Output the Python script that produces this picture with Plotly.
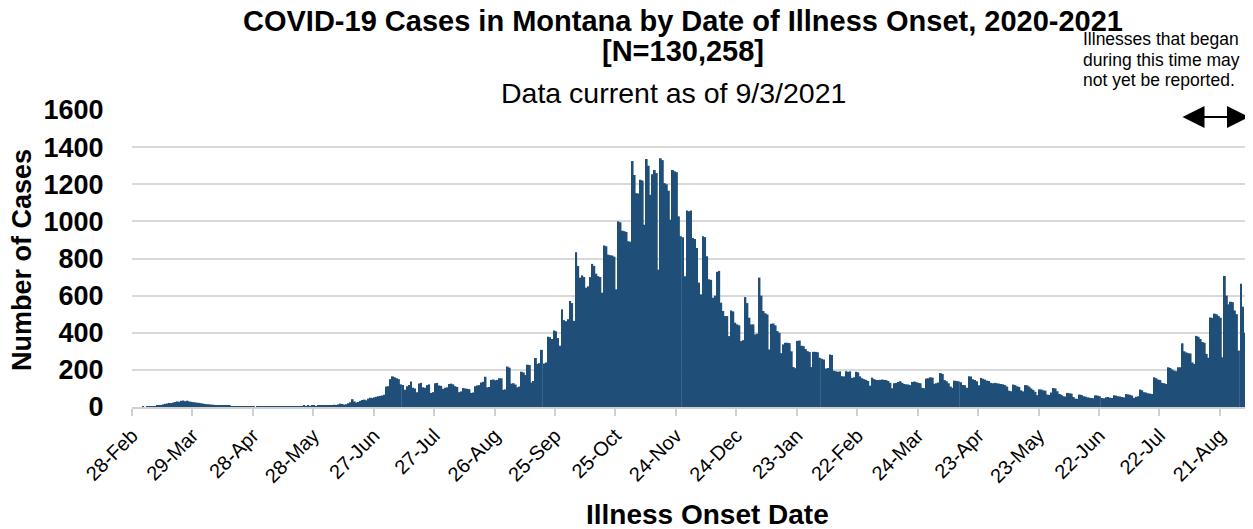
import pandas as pd
import plotly.graph_objects as go

# ---- Data: daily cases by illness onset date ----
start_date = "2020-02-28"
cases_2020_02 = [0, 0]
cases_2020_03 = [0, 0, 0, 1, 0, 1, 1, 2, 3, 4, 6, 8, 11, 14, 17, 19, 22, 21, 24, 27,
                 30, 28, 33, 35, 31, 34, 30, 28, 26, 25, 23]
cases_2020_04 = [22, 20, 18, 16, 15, 14, 13, 12, 11, 10, 9, 9, 8, 7, 6, 6, 5, 4, 4, 3,
                 3, 2, 2, 2, 1, 1, 1, 1, 0, 1]
cases_2020_05 = [1, 2, 1, 2, 3, 2, 2, 3, 2, 3, 3, 2, 3, 4, 3, 3, 4, 3, 4, 5,
                 4, 5, 6, 5, 6, 5, 7, 6, 5, 7, 6]
cases_2020_06 = [7, 8, 6, 9, 10, 8, 12, 11, 14, 18, 16, 13, 15, 20, 25, 42, 30, 24, 27, 33,
                 38, 40, 36, 45, 50, 48, 52, 55, 58, 60]
cases_2020_07 = [62, 66, 110, 112, 150, 165, 160, 155, 150, 122, 118, 93, 112, 118, 138, 104,
                 100, 80, 126, 130, 106, 104, 118, 122, 76, 80, 128, 130, 116, 114, 98]
cases_2020_08 = [104, 106, 124, 126, 122, 112, 108, 80, 84, 102, 100, 98, 96, 76, 78, 112,
                 116, 118, 132, 136, 163, 106, 108, 146, 148, 144, 146, 155, 154, 93, 95]
cases_2020_09 = [218, 212, 126, 128, 121, 106, 110, 190, 186, 172, 228, 226, 132, 140, 264,
                 232, 236, 308, 234, 240, 379, 376, 366, 412, 408, 372, 330, 526, 468, 462]
cases_2020_10 = [473, 571, 560, 464, 834, 760, 697, 709, 700, 643, 650, 700, 771, 760, 718,
                 705, 700, 616, 870, 866, 821, 818, 816, 810, 634, 1000, 995, 950, 947, 943, 893]
cases_2020_11 = [890, 1325, 1250, 1152, 1150, 1224, 1220, 982, 1336, 1300, 1143, 1254, 1277,
                 1260, 740, 1340, 1330, 1206, 1200, 1165, 1009, 1277, 1270, 1265, 1027, 920,
                 915, 705, 1059, 1055]
cases_2020_12 = [1059, 911, 905, 857, 670, 607, 920, 915, 812, 688, 685, 589, 600, 728, 733,
                 562, 517, 490, 490, 382, 520, 515, 454, 445, 440, 355, 360, 592, 560, 481, 445]
cases_2021_01 = [445, 391, 395, 697, 600, 517, 505, 499, 310, 448, 450, 440, 409, 400, 290,
                 337, 346, 346, 344, 300, 215, 209, 356, 358, 330, 328, 312, 301, 296, 215, 297]
cases_2021_02 = [297, 295, 265, 260, 256, 207, 210, 283, 280, 195, 193, 190, 192, 166, 165,
                 193, 190, 192, 157, 160, 190, 187, 165, 155, 150, 146, 140, 115]
cases_2021_03 = [158, 150, 146, 145, 146, 148, 146, 145, 140, 130, 101, 128, 130, 135, 139,
                 130, 124, 122, 121, 118, 135, 137, 134, 130, 128, 103, 101, 153, 155, 160, 158]
cases_2021_04 = [125, 128, 132, 183, 178, 145, 139, 128, 110, 103, 142, 140, 138, 133, 119,
                 117, 104, 166, 164, 150, 146, 139, 117, 157, 152, 148, 142, 140, 130, 128]
cases_2021_05 = [130, 128, 126, 124, 122, 118, 110, 88, 85, 121, 118, 112, 108, 90, 84, 118,
                 117, 110, 100, 92, 82, 64, 95, 94, 90, 88, 67, 65, 78, 102, 100]
cases_2021_06 = [85, 70, 66, 58, 56, 76, 74, 72, 54, 45, 44, 67, 65, 58, 56, 52, 50, 48, 47,
                 63, 61, 58, 49, 47, 52, 54, 50, 48, 63, 62]
cases_2021_07 = [58, 57, 54, 52, 70, 68, 66, 62, 49, 55, 58, 94, 90, 80, 78, 74, 72, 70, 160,
                 155, 148, 145, 130, 128, 124, 214, 210, 202, 196, 193, 214]
cases_2021_08 = [214, 343, 300, 294, 290, 288, 240, 232, 383, 378, 366, 350, 346, 286, 265,
                 482, 480, 503, 500, 491, 481, 268, 706, 600, 553, 567, 565, 520, 500, 304, 664]
cases_2021_09 = [540, 400, 212]

tick_dates = ["2020-02-28", "2020-03-29", "2020-04-28", "2020-05-28", "2020-06-27",
              "2020-07-27", "2020-08-26", "2020-09-25", "2020-10-25", "2020-11-24",
              "2020-12-24", "2021-01-23", "2021-02-22", "2021-03-24", "2021-04-23",
              "2021-05-23", "2021-06-22", "2021-07-22", "2021-08-21"]
tick_labels = ["28-Feb", "29-Mar", "28-Apr", "28-May", "27-Jun", "27-Jul", "26-Aug",
               "25-Sep", "25-Oct", "24-Nov", "24-Dec", "23-Jan", "22-Feb", "24-Mar",
               "23-Apr", "23-May", "22-Jun", "22-Jul", "21-Aug"]
y_ticks = [0, 200, 400, 600, 800, 1000, 1200, 1400, 1600]

cases = (cases_2020_02 + cases_2020_03 + cases_2020_04 + cases_2020_05 + cases_2020_06 +
         cases_2020_07 + cases_2020_08 + cases_2020_09 + cases_2020_10 + cases_2020_11 +
         cases_2020_12 + cases_2021_01 + cases_2021_02 + cases_2021_03 + cases_2021_04 +
         cases_2021_05 + cases_2021_06 + cases_2021_07 + cases_2021_08 + cases_2021_09)
dates = pd.date_range(start=pd.Timestamp(start_date) + pd.Timedelta(hours=12),
                      periods=len(cases), freq="D")
end_date = (pd.Timestamp(start_date) + pd.Timedelta(days=len(cases))).strftime("%Y-%m-%d")

FONT = "Arial, Liberation Sans, sans-serif"
OFF = 8  # page body margin offset
W, H = 1253 - OFF, 529 - OFF
PL, PR, PT, PB = 132, 1248, 110, 407  # plot area in reference pixels
ML, MT = PL - OFF, PT - OFF
MR, MB = W - (PR - OFF), H - (PB - OFF)
PW, PH = PR - PL, PB - PT

def px(xp):
    return (xp - PL) / PW

def py(yp):
    return (PB - yp) / PH

fig = go.Figure()
fig.add_trace(go.Bar(x=dates, y=cases, marker=dict(color="#1F4E79", line=dict(width=0)),
                     hoverinfo="x+y"))

fig.update_layout(
    width=W, height=H,
    margin=dict(l=ML, r=MR, t=MT, b=MB, autoexpand=False),
    plot_bgcolor="white", paper_bgcolor="white",
    bargap=0.06, showlegend=False,
    font=dict(family=FONT, color="black"),
)
fig.update_xaxes(
    type="date", range=[start_date, end_date],
    tickmode="array", tickvals=tick_dates, ticktext=tick_labels,
    tickangle=-45, tickfont=dict(size=20, family=FONT, color="black"),
    showgrid=False, showline=True, linecolor="#D0D0D0", linewidth=2,
    ticks="outside", ticklen=7, tickwidth=2, tickcolor="#D0D0D0",
)
fig.update_yaxes(
    range=[0, 1600], tickmode="array", tickvals=y_ticks,
    tickfont=dict(size=27, family=FONT, color="black", weight="bold"),
    showgrid=True, gridcolor="#D9D9D9", gridwidth=2, zeroline=False, showline=False,
    ticks="outside", ticklen=22, tickcolor="rgba(0,0,0,0)",
)

ann = []
ann.append(dict(text="<b>COVID-19 Cases in Montana by Date of Illness Onset, 2020-2021</b>",
                x=px(683), y=py(21), size=29))
ann.append(dict(text="<b>[N=130,258]</b>", x=px(683), y=py(51), size=29))
ann.append(dict(text="Data current as of 9/3/2021", x=px(673), y=py(93), size=28.5))
ann.append(dict(text="<b>Number of Cases</b>", x=px(22), y=py(260), textangle=-90, size=27))
ann.append(dict(text="<b>Illness Onset Date</b>", x=px(707), y=py(514), size=28))
for i, line in enumerate(["Illnesses that began", "during this time may",
                          "not yet be reported."]):
    ann.append(dict(text=line, x=px(1081), y=py(39 + 20.5 * i), xanchor="left", size=17.5))
for a in ann:
    size = a.pop("size")
    a.setdefault("xanchor", "center")
    fig.add_annotation(xref="paper", yref="paper", yanchor="middle", showarrow=False,
                       font=dict(family=FONT, size=size, color="black"), **a)

fig.add_annotation(xref="paper", yref="paper", x=px(1249), y=py(117), ax=-68, ay=0,
                   text="", showarrow=True, arrowhead=2, arrowside="end+start",
                   arrowsize=2.2, arrowwidth=2, arrowcolor="black")

fig.write_html("out.html")
